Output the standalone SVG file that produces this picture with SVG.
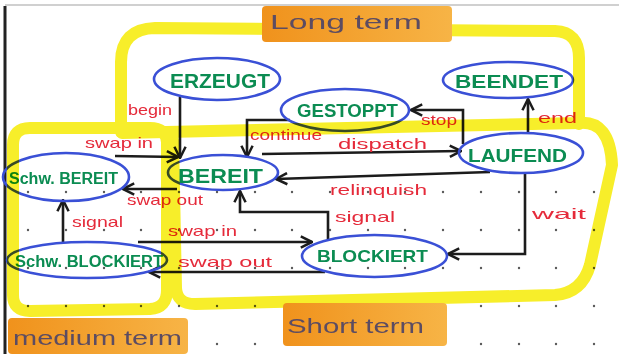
<svg xmlns="http://www.w3.org/2000/svg" width="619" height="354" viewBox="0 0 619 354">
<defs>
<style>
.node ellipse{fill:none;stroke:#3a50d6;stroke-width:2.6}
.node text{font-family:"Liberation Sans",Arial,sans-serif;font-weight:bold;fill:#0b8c52;text-anchor:start}
.edge{fill:none;stroke:#1c1c1c;stroke-width:2.6;stroke-linejoin:miter}
.lbl{font-family:"Liberation Sans",Arial,sans-serif;font-size:15px;fill:#e52a3a}
#highlights{mix-blend-mode:multiply}
.hl{fill:none;stroke:#f7ee2a;stroke-width:12;stroke-linecap:round;stroke-linejoin:round}
.term{font-family:"Liberation Sans",Arial,sans-serif;font-size:21px;fill:#5c4c62}
.dot{fill:#5a5a5a}
</style>
<marker id="ah" viewBox="0 0 10 10" refX="9" refY="5" markerWidth="14" markerHeight="14" markerUnits="userSpaceOnUse" orient="auto">
<path d="M1,1 L9,5 L1,9" fill="none" stroke="#1c1c1c" stroke-width="1.8"/>
</marker>
<linearGradient id="org" x1="0" y1="0" x2="1" y2="0">
<stop offset="0" stop-color="#f0921c"/>
<stop offset="1" stop-color="#f7b446"/>
</linearGradient>
</defs>
<rect width="619" height="354" fill="#ffffff"/>
<line x1="5" y1="5" x2="619" y2="5" stroke="#d0d0d0" stroke-width="2"/>
<line x1="5" y1="6" x2="5" y2="354" stroke="#222" stroke-width="3"/>
<g id="grid">
<g class="dot">
<circle cx="28" cy="192" r="1.2"/><circle cx="66" cy="192" r="1.2"/><circle cx="104" cy="192" r="1.2"/><circle cx="141" cy="192" r="1.2"/><circle cx="179" cy="192" r="1.2"/><circle cx="217" cy="192" r="1.2"/><circle cx="255" cy="192" r="1.2"/><circle cx="292" cy="192" r="1.2"/><circle cx="330" cy="192" r="1.2"/><circle cx="368" cy="192" r="1.2"/><circle cx="405" cy="192" r="1.2"/><circle cx="443" cy="192" r="1.2"/><circle cx="481" cy="192" r="1.2"/><circle cx="519" cy="192" r="1.2"/><circle cx="556" cy="192" r="1.2"/><circle cx="594" cy="192" r="1.2"/>
<circle cx="28" cy="230" r="1.2"/><circle cx="66" cy="230" r="1.2"/><circle cx="104" cy="230" r="1.2"/><circle cx="141" cy="230" r="1.2"/><circle cx="179" cy="230" r="1.2"/><circle cx="217" cy="230" r="1.2"/><circle cx="255" cy="230" r="1.2"/><circle cx="292" cy="230" r="1.2"/><circle cx="330" cy="230" r="1.2"/><circle cx="368" cy="230" r="1.2"/><circle cx="405" cy="230" r="1.2"/><circle cx="443" cy="230" r="1.2"/><circle cx="481" cy="230" r="1.2"/><circle cx="519" cy="230" r="1.2"/><circle cx="556" cy="230" r="1.2"/><circle cx="594" cy="230" r="1.2"/>
<circle cx="28" cy="268" r="1.2"/><circle cx="66" cy="268" r="1.2"/><circle cx="104" cy="268" r="1.2"/><circle cx="141" cy="268" r="1.2"/><circle cx="179" cy="268" r="1.2"/><circle cx="217" cy="268" r="1.2"/><circle cx="255" cy="268" r="1.2"/><circle cx="292" cy="268" r="1.2"/><circle cx="330" cy="268" r="1.2"/><circle cx="368" cy="268" r="1.2"/><circle cx="405" cy="268" r="1.2"/><circle cx="443" cy="268" r="1.2"/><circle cx="481" cy="268" r="1.2"/><circle cx="519" cy="268" r="1.2"/><circle cx="556" cy="268" r="1.2"/><circle cx="594" cy="268" r="1.2"/>
<circle cx="28" cy="306" r="1.2"/><circle cx="66" cy="306" r="1.2"/><circle cx="104" cy="306" r="1.2"/><circle cx="141" cy="306" r="1.2"/><circle cx="179" cy="306" r="1.2"/><circle cx="217" cy="306" r="1.2"/><circle cx="255" cy="306" r="1.2"/><circle cx="292" cy="306" r="1.2"/><circle cx="330" cy="306" r="1.2"/><circle cx="368" cy="306" r="1.2"/><circle cx="405" cy="306" r="1.2"/><circle cx="443" cy="306" r="1.2"/><circle cx="481" cy="306" r="1.2"/><circle cx="519" cy="306" r="1.2"/><circle cx="556" cy="306" r="1.2"/><circle cx="594" cy="306" r="1.2"/>
<circle cx="28" cy="344" r="1.2"/><circle cx="66" cy="344" r="1.2"/><circle cx="104" cy="344" r="1.2"/><circle cx="141" cy="344" r="1.2"/><circle cx="179" cy="344" r="1.2"/><circle cx="217" cy="344" r="1.2"/><circle cx="255" cy="344" r="1.2"/><circle cx="292" cy="344" r="1.2"/><circle cx="330" cy="344" r="1.2"/><circle cx="368" cy="344" r="1.2"/><circle cx="405" cy="344" r="1.2"/><circle cx="443" cy="344" r="1.2"/><circle cx="481" cy="344" r="1.2"/><circle cx="519" cy="344" r="1.2"/><circle cx="556" cy="344" r="1.2"/><circle cx="594" cy="344" r="1.2"/>
</g>
</g>
<g id="connectors">
<path class="edge" marker-end="url(#ah)" d="M180,97 L180,158"/>
<path class="edge" marker-end="url(#ah)" d="M290,120 L247,120 L247,157"/>
<path class="edge" marker-end="url(#ah)" d="M262,154 L461,151"/>
<path class="edge" marker-end="url(#ah)" d="M463,144 L463,110 L411,110"/>
<path class="edge" marker-end="url(#ah)" d="M528,133 L528,99"/>
<path class="edge" marker-end="url(#ah)" d="M490,172 L276,179"/>
<path class="edge" marker-end="url(#ah)" d="M525,173 L525,254 L448,254"/>
<path class="edge" marker-end="url(#ah)" d="M328,239 L328,212 L240,212 L240,191"/>
<path class="edge" marker-end="url(#ah)" d="M115,156 L178,157"/>
<path class="edge" marker-end="url(#ah)" d="M177,189 L123,189"/>
<path class="edge" marker-end="url(#ah)" d="M63,243 L63,200"/>
<path class="edge" marker-end="url(#ah)" d="M138,242 L312,242"/>
<path class="edge" marker-end="url(#ah)" d="M325,272 L149,272"/>
</g>
<g id="labels">
<text class="lbl" x="128" y="115" textLength="44" lengthAdjust="spacingAndGlyphs">begin</text>
<text class="lbl" x="250" y="140" textLength="72" lengthAdjust="spacingAndGlyphs">continue</text>
<text class="lbl" x="338" y="149" textLength="89" lengthAdjust="spacingAndGlyphs">dispatch</text>
<text class="lbl" x="421" y="125" textLength="36" lengthAdjust="spacingAndGlyphs">stop</text>
<text class="lbl" x="538" y="123" textLength="39" lengthAdjust="spacingAndGlyphs">end</text>
<text class="lbl" x="330" y="195" textLength="97" lengthAdjust="spacingAndGlyphs">relinquish</text>
<text class="lbl" x="335" y="222" textLength="60" lengthAdjust="spacingAndGlyphs">signal</text>
<text class="lbl" x="532" y="219" textLength="54" lengthAdjust="spacingAndGlyphs">wait</text>
<text class="lbl" x="85" y="148" textLength="68" lengthAdjust="spacingAndGlyphs">swap in</text>
<text class="lbl" x="127" y="205" textLength="76" lengthAdjust="spacingAndGlyphs">swap out</text>
<text class="lbl" x="72" y="227" textLength="51" lengthAdjust="spacingAndGlyphs">signal</text>
<text class="lbl" x="168" y="236" textLength="69" lengthAdjust="spacingAndGlyphs">swap in</text>
<text class="lbl" x="178" y="267" textLength="94" lengthAdjust="spacingAndGlyphs">swap out</text>
</g>
<g id="n-erzeugt" class="node">
<ellipse cx="217" cy="79" rx="63" ry="21"/>
<text x="170" y="88" font-size="20" textLength="100" lengthAdjust="spacingAndGlyphs">ERZEUGT</text>
</g>
<g id="n-gestoppt" class="node">
<ellipse cx="345" cy="110" rx="64" ry="21"/>
<text x="297" y="117" font-size="18" textLength="101" lengthAdjust="spacingAndGlyphs">GESTOPPT</text>
</g>
<g id="n-beendet" class="node">
<ellipse cx="508" cy="80" rx="65" ry="18"/>
<text x="455" y="88" font-size="18" textLength="108" lengthAdjust="spacingAndGlyphs">BEENDET</text>
</g>
<g id="n-laufend" class="node">
<ellipse cx="521" cy="153" rx="62" ry="20"/>
<text x="468" y="162" font-size="19" textLength="99" lengthAdjust="spacingAndGlyphs">LAUFEND</text>
</g>
<g id="n-bereit" class="node">
<ellipse cx="223" cy="172.5" rx="55" ry="17.5"/>
<text x="178" y="183" font-size="21" textLength="85" lengthAdjust="spacingAndGlyphs">BEREIT</text>
</g>
<g id="n-schw-bereit" class="node">
<ellipse cx="66" cy="177" rx="63" ry="24"/>
<text x="9" y="184" font-size="16" textLength="109" lengthAdjust="spacingAndGlyphs">Schw. BEREIT</text>
</g>
<g id="n-schw-blockiert" class="node">
<ellipse cx="87" cy="260" rx="80" ry="18"/>
<text x="15" y="267" font-size="16" textLength="148" lengthAdjust="spacingAndGlyphs">Schw. BLOCKIERT</text>
</g>
<g id="n-blockiert" class="node">
<ellipse cx="374.5" cy="256" rx="72.5" ry="21"/>
<text x="317" y="262" font-size="17" textLength="111" lengthAdjust="spacingAndGlyphs">BLOCKIERT</text>
</g>
<g id="highlights">
<path class="hl" d="M121,132 L121,62 Q121,29 155,28 L555,31 Q579,32 579,58 L579,124"/>
<path class="hl" d="M122,133 L579,123 Q610,120 612,165 L590,265 Q582,293 555,295 L195,304 Q177,304 176,288 L173,140"/>
<path class="hl" d="M167,142 Q166,128 150,128 L30,128 Q13,128 13,145 L13,295 Q13,311 30,311 L150,309 Q167,308 167,290 Z"/>
</g>
<g id="term-long">
<rect x="262" y="6" width="190" height="36" rx="4" fill="url(#org)"/>
<text class="term" x="270" y="29" font-size="23" textLength="152" lengthAdjust="spacingAndGlyphs">Long term</text>
</g>
<g id="term-medium">
<rect x="8" y="318" width="180" height="36" rx="4" fill="url(#org)"/>
<text class="term" x="13" y="345" textLength="169" lengthAdjust="spacingAndGlyphs">medium term</text>
</g>
<g id="term-short">
<rect x="283" y="303" width="164" height="43" rx="4" fill="url(#org)"/>
<text class="term" x="287" y="333" textLength="137" lengthAdjust="spacingAndGlyphs">Short term</text>
</g>
</svg>
